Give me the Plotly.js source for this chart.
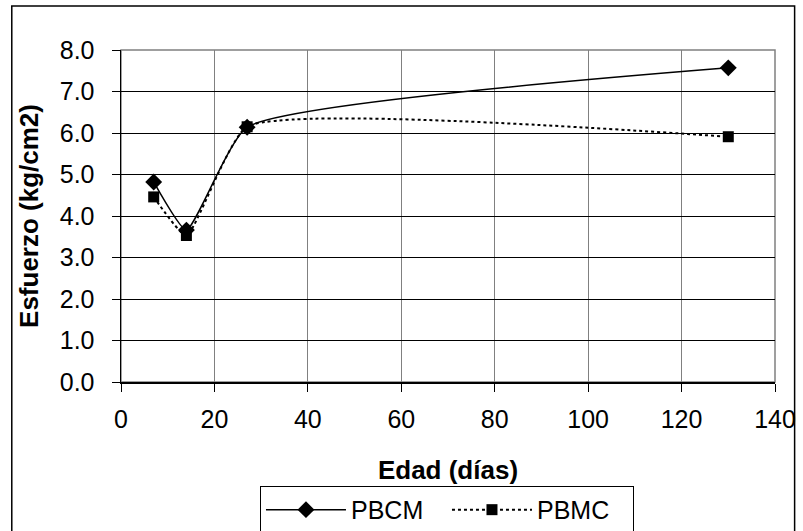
<!DOCTYPE html>
<html>
<head>
<meta charset="utf-8">
<script src="https://cdn.plot.ly/plotly-3.0.1.min.js"></script>
<style>html,body{margin:0;padding:0;background:#fff;}#chart{width:803px;height:531px;}</style>
</head>
<body>
<div id="chart"></div>
<script>
// Data
const edad = [7, 14, 27, 130];
const pbcm = [4.82, 3.66, 6.14, 7.57];
const pbmc = [4.46, 3.53, 6.15, 5.91];
const seriesNames = ['PBCM', 'PBMC'];
const xTicks = [0, 20, 40, 60, 80, 100, 120, 140];
const yTicks = [0, 1, 2, 3, 4, 5, 6, 7, 8];

const font = 'Liberation Sans, Arial, sans-serif';

const traces = [
  {
    x: edad, y: pbcm, name: seriesNames[0], type: 'scatter', mode: 'lines+markers',
    line: {color: '#000', width: 1.5, shape: 'spline', smoothing: 0.45},
    marker: {symbol: 'diamond', size: 13, color: '#000'}
  },
  {
    x: edad, y: pbmc, name: seriesNames[1], type: 'scatter', mode: 'lines+markers',
    line: {color: '#000', width: 2, dash: 'dot', shape: 'spline', smoothing: 0.45},
    marker: {symbol: 'square', size: 11, color: '#000'}
  }
];

const layout = {
  width: 803, height: 531,
  margin: {l: 121, r: 28, t: 50, b: 149, autoexpand: false},
  paper_bgcolor: '#fff', plot_bgcolor: '#fff',
  font: {family: font, size: 25, color: '#000'},
  showlegend: true,
  legend: {
    orientation: 'h', x: 0.2125, xanchor: 'left', y: -0.313, yanchor: 'top',
    bordercolor: '#000', borderwidth: 1, font: {family: font, size: 25, color: '#000'},
    itemwidth: 80, entrywidth: 91, tracegroupgap: 0, bgcolor: '#fff'
  },
  xaxis: {
    range: [0, 140], tickvals: xTicks, ticktext: xTicks.map(String),
    showgrid: true, gridcolor: '#808080', gridwidth: 1,
    zeroline: false, showline: true, linecolor: '#000', linewidth: 1.5,
    ticks: 'outside', ticklen: 8, tickcolor: '#000', ticklabelstandoff: 6,
    tickfont: {family: font, size: 25},
    title: {text: '<b>Edad (días)</b>', font: {family: font, size: 26}, standoff: 29}
  },
  yaxis: {
    range: [0, 8], tickvals: yTicks, ticktext: yTicks.map(v => v.toFixed(1)),
    showgrid: true, gridcolor: '#000', gridwidth: 1,
    zeroline: false, showline: true, linecolor: '#000', linewidth: 1.5,
    ticks: 'outside', ticklen: 8, tickcolor: '#000', ticklabelstandoff: 12,
    tickfont: {family: font, size: 25},
    title: {text: '<b>Esfuerzo (kg/cm2)</b>', font: {family: font, size: 26}, standoff: 13}
  },
  shapes: [
    {type: 'rect', xref: 'paper', yref: 'paper', x0: 0, x1: 1, y0: 0, y1: 1,
     line: {color: '#808080', width: 1.5}, layer: 'below'},
    {type: 'rect', xref: 'paper', yref: 'paper', x0: -0.167, x1: 1.03, y0: -0.5, y1: 1.1325,
     line: {color: '#000', width: 1.5}}
  ]
};

Plotly.newPlot('chart', traces, layout, {displayModeBar: false, staticPlot: true});
</script>
</body>
</html>
